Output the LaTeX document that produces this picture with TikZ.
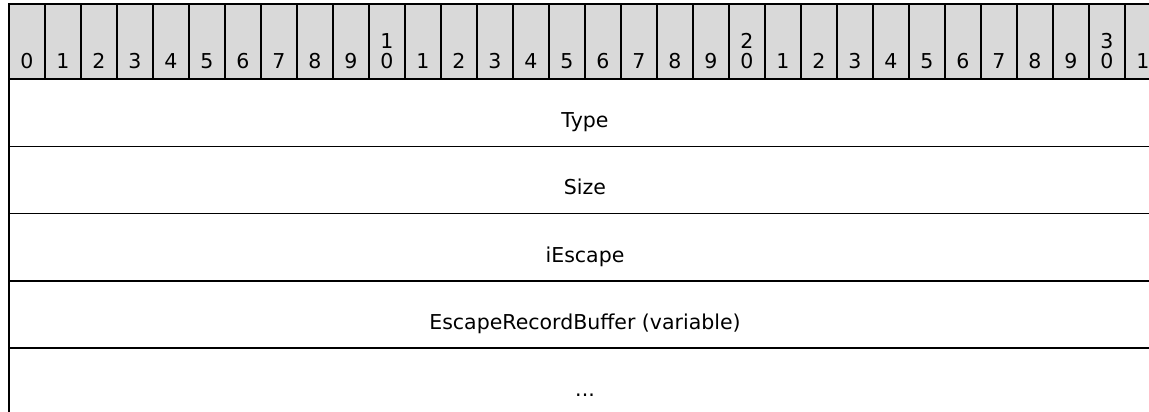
\documentclass[tikz,border=0pt]{standalone}
\usepackage{fontspec}
\setmainfont{DejaVu Sans}
\usetikzlibrary{positioning}

\begin{document}
\begin{tikzpicture}[
  x=1pt, y=-1pt,
  font=\fontsize{20.5}{20}\selectfont,
  rule/.style={draw=black, line width=1.5pt},
  bitcell/.style={
    rule,
    fill=black!15,
    anchor=north west,
    minimum width=36pt,
    minimum height=75pt,
    inner sep=0pt,
    outer sep=0pt
  },
  bitnum/.style={anchor=base, inner sep=0pt, text=black},
  field/.style={
    rule,
    anchor=north west,
    minimum width=1152pt,
    minimum height=67.25pt,
    inner sep=0pt,
    outer sep=0pt
  },
  fieldname/.style={anchor=base, inner sep=0pt, text=black}
]
\useasboundingbox (0,0) rectangle (1149,412);

% bit ruler
\foreach \i in {0,...,31}{
  \node[bitcell] (bit\i) at ({9+36*\i},4) {};
}
\foreach \i in {0,...,31}{
  \pgfmathtruncatemacro\ones{mod(\i,10)}
  \node[bitnum] (d\i) at ([yshift=10.5pt]bit\i.south) {\ones};
}
\foreach \t in {1,2,3}{
  \node[bitnum] (t\t) at ([yshift=30.5pt]bit\t0.south) {\t};
}

% fields
\node[field] (typeRow) at (9,79) {};
\node[fieldname] (type) at (585,127.5) {Type};

\node[field] (sizeRow) at (9,146.25) {};
\node[fieldname] (size) at (585,194.75) {Size};

\node[field] (iEscapeRow) at (9,213.5) {};
\node[fieldname] (iEscape) at (585,262) {iEscape};

\node[field] (bufferRow) at (9,280.75) {};
\node[fieldname] (buffer) at (585,329.25) {EscapeRecordBuffer (variable)};

\node[field] (moreRow) at (9,348) {};
\node[fieldname] (more) at (585,396.5) {...};

\end{tikzpicture}
\end{document}
